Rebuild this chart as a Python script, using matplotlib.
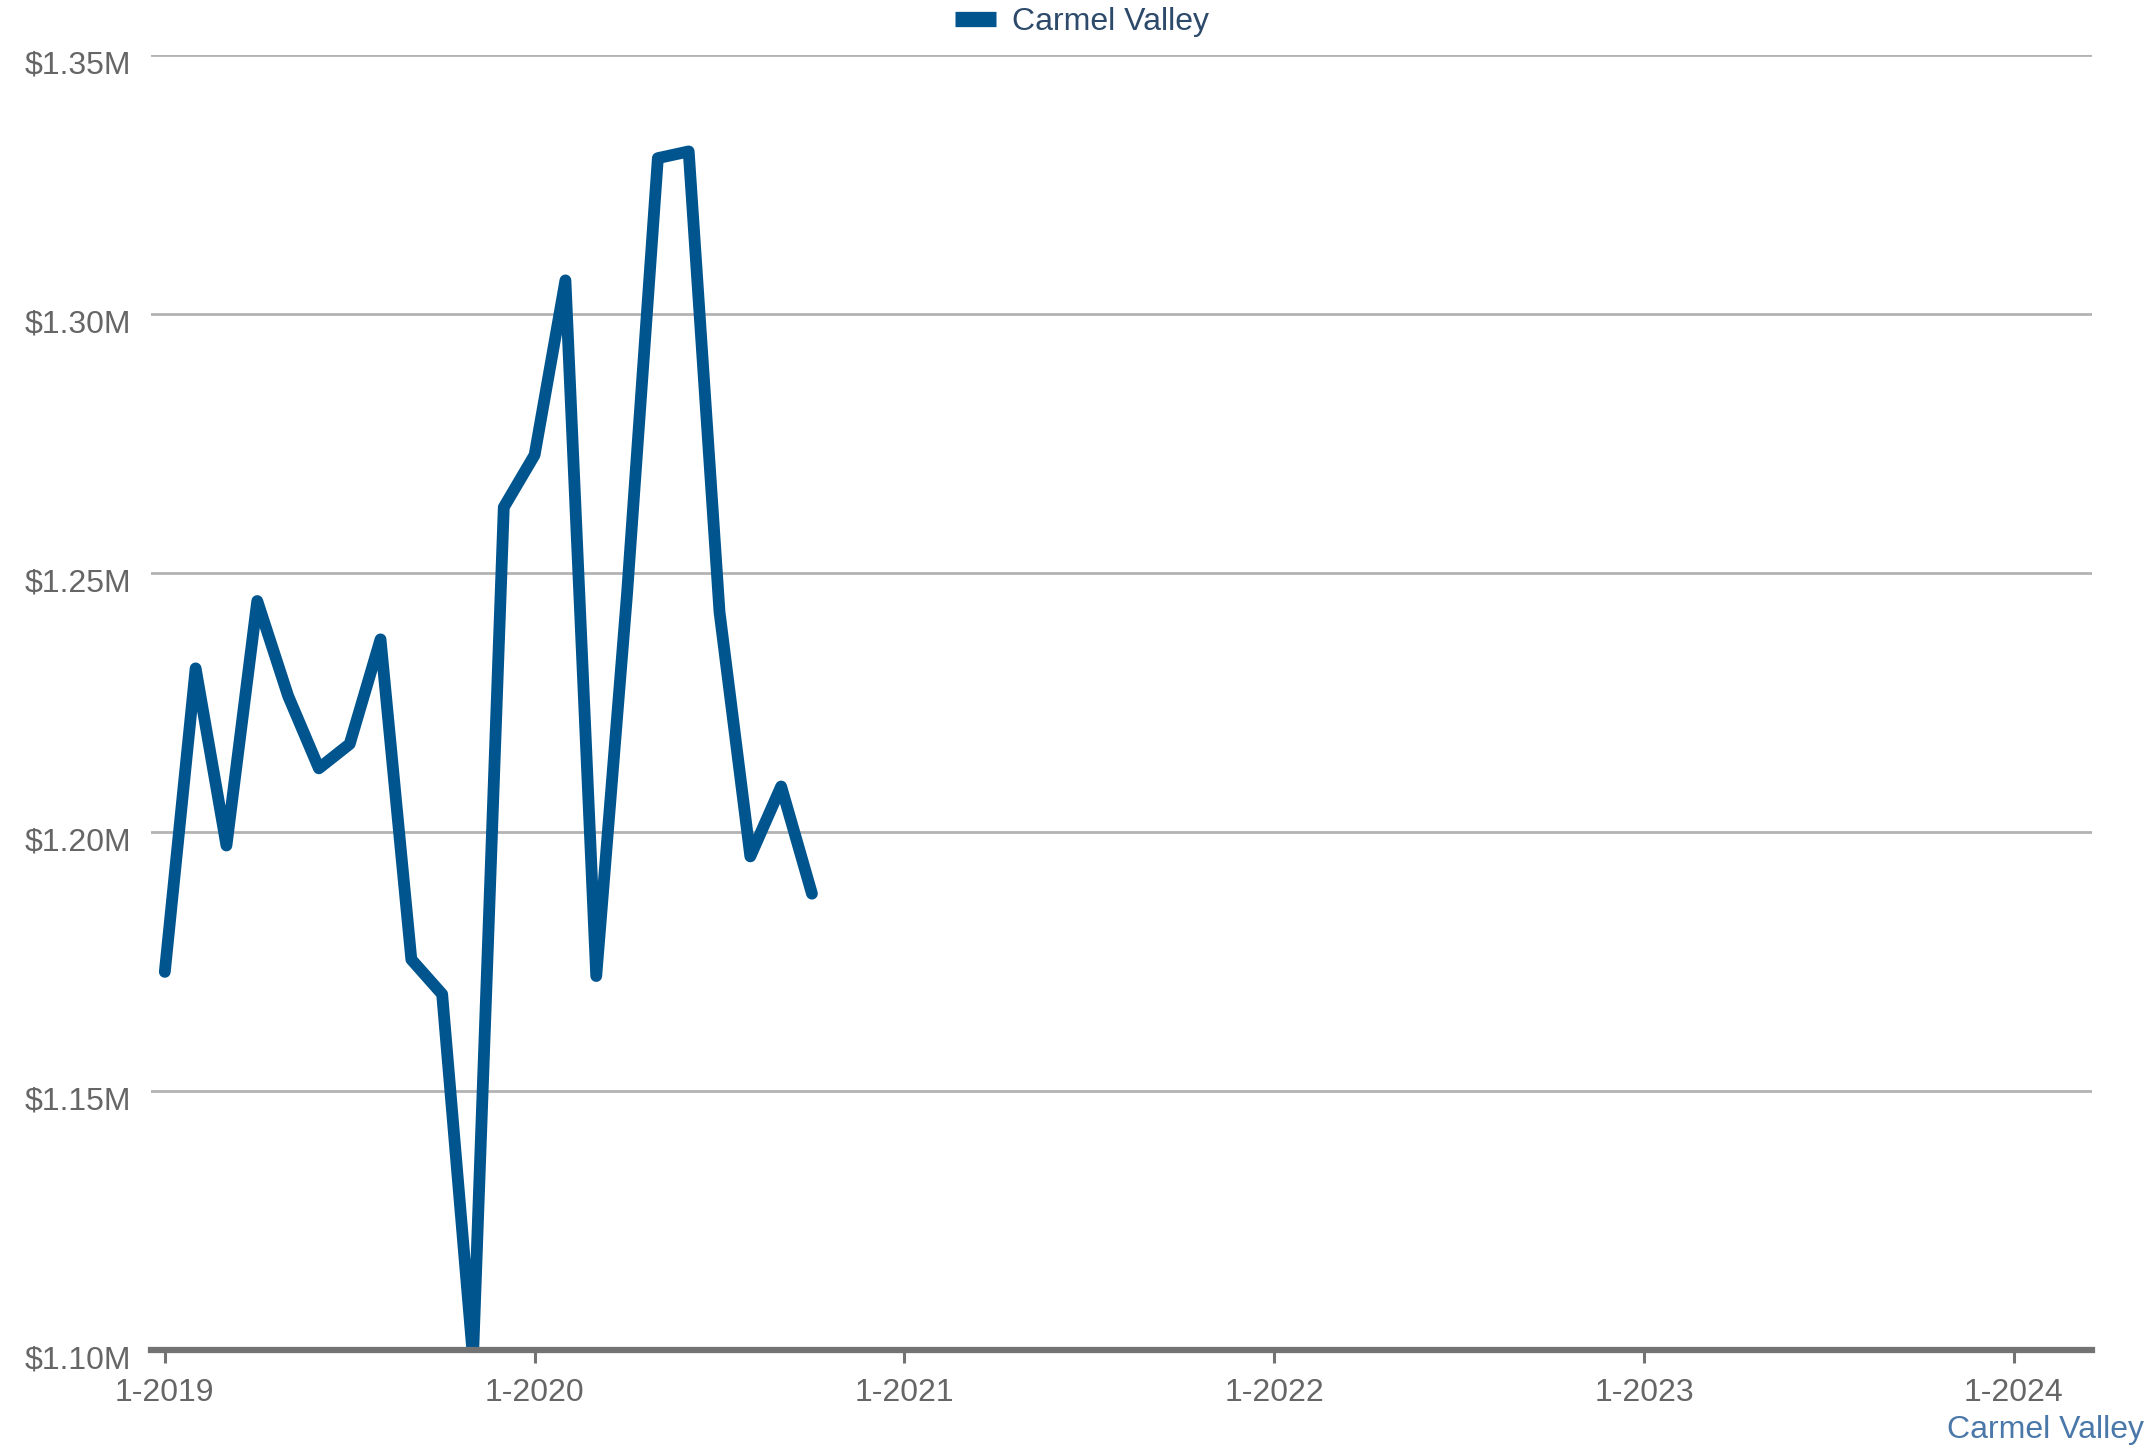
import matplotlib
matplotlib.use("Agg")
import matplotlib.pyplot as plt
import matplotlib.transforms as mtransforms
from matplotlib.lines import Line2D
import numpy as np

plt.rcParams['font.family'] = ['Liberation Sans', 'DejaVu Sans']

# monthly median price, Jan 2019 .. Oct 2020 (in $M)
months = ['1-2019', '2-2019', '3-2019', '4-2019', '5-2019', '6-2019', '7-2019', '8-2019',
          '9-2019', '10-2019', '11-2019', '12-2019', '1-2020', '2-2020', '3-2020', '4-2020',
          '5-2020', '6-2020', '7-2020', '8-2020', '9-2020', '10-2020']
prices = [1.173, 1.2316, 1.1974, 1.2446, 1.2263, 1.2123, 1.217, 1.2372,
          1.1754, 1.1687, 1.0985, 1.2627, 1.2728, 1.3065, 1.1722, 1.246,
          1.3301, 1.3314, 1.2425, 1.1953, 1.2088, 1.1881]
year_ticks = ['1-2019', '1-2020', '1-2021', '1-2022', '1-2023', '1-2024']
y_ticks = [1.10, 1.15, 1.20, 1.25, 1.30, 1.35]

line_color = '#00558f'
tick_color = '#666666'
fs = 23

fig = plt.figure(figsize=(21.55, 14.49), dpi=100)
ax = fig.add_axes([0.0701, 0.0683, 0.9007, 0.8937])

x = np.arange(len(prices))
ax.plot(x, prices, color=line_color, lw=8.5, solid_joinstyle='round',
        solid_capstyle='round')

ax.set_xlim(-0.446, 62.54)
ax.set_ylim(1.10, 1.35)

ax.set_xticks(np.arange(len(year_ticks)) * 12)
ax.set_xticklabels(year_ticks)
ax.set_yticks(y_ticks)
ax.set_yticklabels([f'${v:.2f}M' for v in y_ticks])

ax.grid(axis='y', color='#b3b3b3', lw=2)
ax.set_axisbelow(True)
for s in ['top', 'right', 'left']:
    ax.spines[s].set_visible(False)
ax.spines['bottom'].set_color('#737373')
ax.spines['bottom'].set_linewidth(4.5)
ax.spines['bottom'].set_zorder(3)

ax.tick_params(axis='x', length=9, width=2.2, color='#737373', pad=11,
               labelsize=fs, labelcolor=tick_color)
ax.tick_params(axis='y', length=0, pad=14, labelsize=fs, labelcolor=tick_color)

# y labels sit a little below their grid lines
shift = mtransforms.ScaledTranslation(0, -5 / 72, fig.dpi_scale_trans)
for lab in ax.get_yticklabels():
    lab.set_transform(lab.get_transform() + shift)

handle = Line2D([], [], color=line_color, lw=11, solid_capstyle='butt')
fig.legend([handle], ['Carmel Valley'], loc='center',
           bbox_to_anchor=(1082 / 2155, 1 - 22 / 1449),
           frameon=False, fontsize=fs, handlelength=1.3, handletextpad=0.5,
           labelcolor='#2d4a6b')

fig.text(2144 / 2155, 1 - 1430 / 1449, 'Carmel Valley', ha='right', va='center',
         fontsize=fs, color='#4a78a8')

fig.savefig('out.png', dpi=100)
